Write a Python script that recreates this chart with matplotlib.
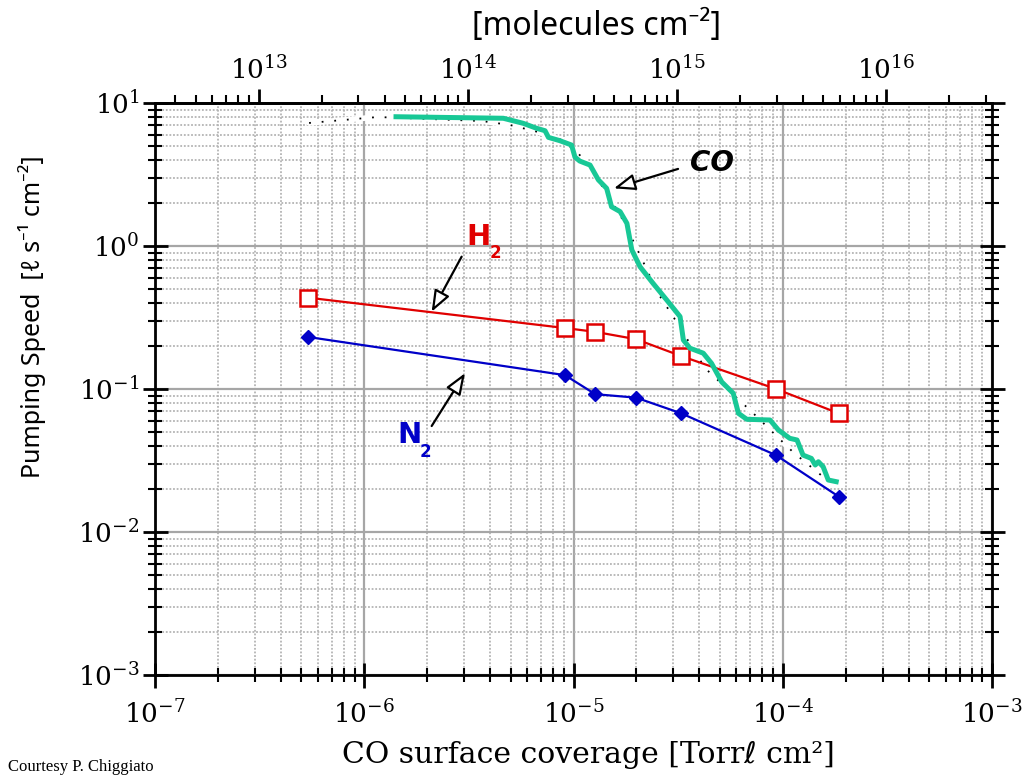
import matplotlib
matplotlib.use("Agg")
import matplotlib.pyplot as plt
from matplotlib.ticker import LogLocator, NullFormatter, FixedLocator

# ---- data ----
co_x = [1.38e-6, 4.62e-6, 5.75e-6, 6.67e-6, 7.31e-6, 7.59e-6, 8.61e-6, 9.79e-6,
        1.016e-5, 1.07e-5, 1.20e-5, 1.315e-5, 1.44e-5, 1.52e-5, 1.67e-5, 1.80e-5,
        1.90e-5, 2.08e-5, 2.40e-5, 2.79e-5, 3.23e-5, 3.35e-5, 3.60e-5, 4.17e-5,
        4.57e-5, 5.11e-5, 5.80e-5, 6.14e-5, 6.73e-5, 8.69e-5, 9.53e-5, 1.08e-4,
        1.17e-4, 1.25e-4, 1.37e-4, 1.43e-4, 1.48e-4, 1.56e-4, 1.65e-4, 1.85e-4]
co_y = [8.02, 7.82, 7.21, 6.65, 6.40, 5.75, 5.45, 5.08,
        4.19, 3.93, 3.68, 2.90, 2.53, 1.88, 1.74, 1.44,
        0.938, 0.716, 0.548, 0.419, 0.321, 0.220, 0.193, 0.178,
        0.151, 0.112, 0.0933, 0.0676, 0.0614, 0.0607, 0.0517, 0.0452,
        0.0440, 0.0345, 0.0327, 0.0294, 0.0310, 0.0286, 0.0231, 0.0223]

co_fit_x = [5.45e-7, 1.16e-6, 3.65e-6, 4.97e-6, 6.77e-6, 8.81e-6, 1.05e-5, 1.20e-5,
            1.67e-5, 1.97e-5, 2.53e-5, 3.13e-5, 4.25e-5, 7.21e-5, 1.12e-4, 1.56e-4]
co_fit_y = [7.25, 7.98, 7.48, 7.02, 6.27, 5.51, 4.47, 3.57,
            1.65, 1.02, 0.469, 0.290, 0.140, 0.0679, 0.0362, 0.0243]

gas_x = [5.4e-7, 9.1e-6, 1.27e-5, 1.99e-5, 3.27e-5, 9.3e-5, 1.85e-4]
h2_y = [0.435, 0.267, 0.251, 0.223, 0.170, 0.100, 0.0676]
n2_y = [0.231, 0.125, 0.092, 0.087, 0.0676, 0.0344, 0.0177]

top_ticks = [1e13, 1e14, 1e15, 1e16]

TORR_L_TO_MOLECULES = 3.2e19

# ---- figure ----
plt.rcParams['font.family'] = ['DejaVu Serif', 'DejaVu Sans']
plt.rcParams['mathtext.fontset'] = 'dejavuserif'
fig = plt.figure(figsize=(10.26, 7.76), dpi=100)
ax = fig.add_axes([155/1026, 1-675/776, (992-155)/1026, (675-103)/776])
ax.set_xscale('log')
ax.set_yscale('log')
ax.set_xlim(1e-7, 1e-3)
ax.set_ylim(1e-3, 1e1)

ax.xaxis.set_major_locator(LogLocator(base=10, numticks=10))
ax.xaxis.set_minor_locator(LogLocator(base=10, subs=range(2, 10), numticks=20))
ax.yaxis.set_major_locator(LogLocator(base=10, numticks=10))
ax.yaxis.set_minor_locator(LogLocator(base=10, subs=range(2, 10), numticks=20))
ax.xaxis.set_minor_formatter(NullFormatter())
ax.yaxis.set_minor_formatter(NullFormatter())

ax.set_axisbelow(True)
ax.grid(which='major', color='#a6a6a6', lw=1.6, ls='-')
ax.grid(which='minor', color='#b4b4b4', lw=1.3, ls=(0, (1, 1)))

for s in ax.spines.values():
    s.set_linewidth(2)
    s.set_color('black')

ax.tick_params(axis='both', which='major', direction='inout', length=18, width=2,
               labelsize=19, top=False, right=True, color='black')
ax.tick_params(axis='both', which='minor', direction='inout', length=10, width=1.5,
               top=False, right=True)
ax.tick_params(axis='x', which='major', pad=9)
ax.tick_params(axis='y', which='major', pad=2)

# secondary top axis
sec = ax.secondary_xaxis('top', functions=(lambda x: x * TORR_L_TO_MOLECULES,
                                           lambda x: x / TORR_L_TO_MOLECULES))
sec.xaxis.set_major_locator(FixedLocator(top_ticks))
sec.xaxis.set_minor_locator(LogLocator(base=10, subs=range(2, 10), numticks=20))
sec.xaxis.set_minor_formatter(NullFormatter())
sec.tick_params(which='major', direction='out', length=10, width=2, labelsize=19, pad=4)
sec.tick_params(which='minor', direction='out', length=6, width=1.5)
sec.spines['top'].set_linewidth(2)

# ---- series ----
ax.plot(co_fit_x, co_fit_y, color='white', lw=4, zorder=3, solid_capstyle='round')
ax.plot(co_fit_x, co_fit_y, color='black', lw=1.3, ls=(0, (1, 6)), zorder=3.5)
ax.plot(gas_x, h2_y, color='#e00000', lw=1.6, marker='s', ms=11, mfc='white',
        mec='#e00000', mew=1.8, zorder=4)
ax.plot(gas_x, n2_y, color='#0000c8', lw=1.6, marker='D', ms=7, mfc='#0000c8',
        mec='#0000c8', zorder=4)
ax.plot(co_x, co_y, color='#18c896', lw=3.6, zorder=5, solid_joinstyle='round',
        solid_capstyle='butt')

# ---- annotations ----
arrow_kw = dict(arrowstyle='-|>,head_length=1.3,head_width=0.5', color='black',
                lw=1.6, fc='white', ec='black', shrinkA=0, shrinkB=0)
ax.text(4.57e-5, 3.79, 'CO', fontsize=20, fontweight='bold', fontstyle='italic',
        family=['DejaVu Sans'], ha='center', va='center', color='black', zorder=6)
ax.annotate('', xy=(1.56e-5, 2.53), xytext=(3.16e-5, 3.46), arrowprops=arrow_kw, zorder=6)

ax.text(3.50e-6, 1.156, 'H', fontsize=21, fontweight='bold', family=['DejaVu Sans'],
        color='#e00000', ha='center', va='center', zorder=6)
ax.text(4.25e-6, 0.893, '2', fontsize=12, fontweight='bold', family=['DejaVu Sans'],
        color='#e00000', ha='center', va='center', zorder=6)
ax.annotate('', xy=(2.10e-6, 0.347), xytext=(2.92e-6, 0.842), arrowprops=arrow_kw, zorder=6)

ax.text(1.65e-6, 0.0477, 'N', fontsize=21, fontweight='bold', family=['DejaVu Sans'],
        color='#0000c8', ha='center', va='center', zorder=6)
ax.text(1.97e-6, 0.0363, '2', fontsize=12, fontweight='bold', family=['DejaVu Sans'],
        color='#0000c8', ha='center', va='center', zorder=6)
ax.annotate('', xy=(3.03e-6, 0.129), xytext=(2.10e-6, 0.0551), arrowprops=arrow_kw, zorder=6)

# ---- axis labels ----
fig.text(596/1026, 1-26/776, '[molecules cm\u207b\u00b2]', fontsize=23,
         family=['Noto Sans', 'DejaVu Sans'], ha='center', va='center')
fig.text(32/1026, 1-317/776, 'Pumping Speed  [\u2113 s\u207b\u00b9 cm\u207b\u00b2]', fontsize=18,
         family=['Noto Sans', 'DejaVu Sans'], ha='center', va='center', rotation=90)
fig.text(588/1026, 1-755/776, 'CO surface coverage [Torr\u2113 cm\u00b2]', fontsize=21.5,
         family=['DejaVu Serif', 'DejaVu Sans'], ha='center', va='center')
fig.text(8/1026, 1-767/776, 'Courtesy P. Chiggiato', fontsize=12,
         family=['Liberation Serif', 'DejaVu Serif'], ha='left', va='center')

fig.savefig('out.png', dpi=100)
